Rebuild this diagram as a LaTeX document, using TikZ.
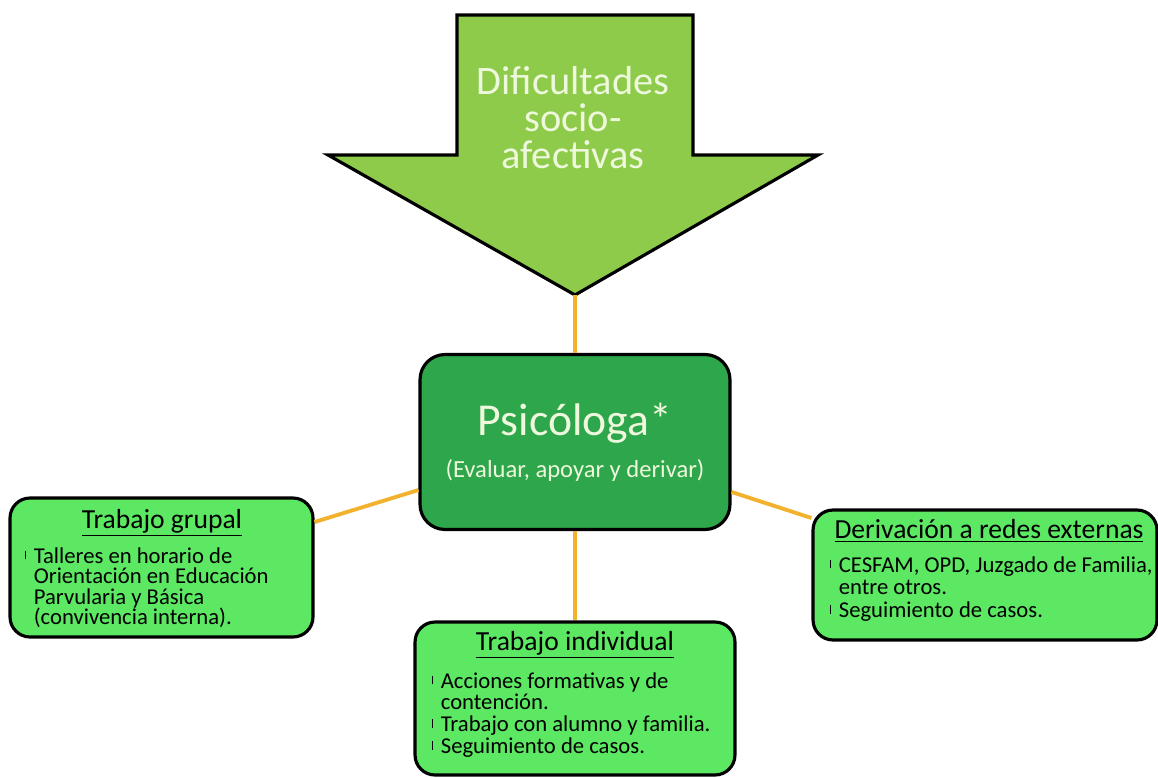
\documentclass[tikz,border=0pt]{standalone}
\usepackage{fontspec}
\setmainfont{Carlito}

\definecolor{verdeflecha}{HTML}{8FCB4B}
\definecolor{verdecentro}{HTML}{2EA64B}
\definecolor{verdecaja}{HTML}{5CE862}
\definecolor{amarillo}{HTML}{F2B22E}
\definecolor{claro}{HTML}{EEF8DC}

\newcommand{\tic}{\makebox[0.17cm][l]{\rule[0.35ex]{0.6pt}{0.8ex}}}
\newcommand{\sig}{\hspace*{0.17cm}}

\begin{document}
\begin{tikzpicture}[x=0.02cm,y=-0.02cm,
  cajaverde/.style={draw,line width=1.8pt,rounded corners=0.4cm,fill=verdecaja},
  titulo/.style={font=\fontsize{15.7}{18}\selectfont},
  cuerpo/.style={anchor=north west,inner sep=0pt,align=left,font=\fontsize{12.9}{11.7}\selectfont},
  conector/.style={amarillo,line width=2.2pt}]

\useasboundingbox (0,0) rectangle (1158,777);

% flecha de arriba
\fill[verdeflecha,draw=black,line width=1.8pt,line join=miter]
  (457,15) -- (693,15) -- (693,155) -- (818,155) -- (575,295)
  -- (328,155) -- (457,155) -- cycle;
\coordinate (punta) at (575,295);
\node[text=claro,align=center,font=\fontsize{23}{21}\selectfont] (dific) at (573,118)
  {Dificultades\\socio-\\afectivas};

% caja central
\node[draw,line width=1.8pt,rounded corners=0.5cm,fill=verdecentro,text=claro,
  minimum width=6.2cm,minimum height=3.5cm,align=center,
  font=\fontsize{26}{26}\selectfont] (psico) at (575,442)
  {Psicóloga*\\[-2pt]{\fontsize{14}{16}\selectfont (Evaluar, apoyar y derivar)}};

% cajas de abajo
\node[cajaverde,minimum width=6.06cm,minimum height=2.78cm] (grupal) at (161.5,567.5) {};
\node[cajaverde,minimum width=6.4cm,minimum height=3.06cm] (indiv) at (575,698.5) {};
\node[cajaverde,minimum width=6.88cm,minimum height=2.6cm] (redes) at (985,575) {};

\node[titulo] (tgrupal) at (162,523) {\underline{Trabajo grupal}};
\node[titulo] (tindiv) at (575,645) {\underline{Trabajo individual}};
\node[titulo] (tredes) at (989,531) {\underline{Derivación a redes externas}};

\node[cuerpo] (cgrupal) at (25,547)
  {\tic Talleres en horario de\\
   \sig Orientación en Educación\\
   \sig Parvularia y Básica\\
   \sig (convivencia interna).};
\node[cuerpo,font=\fontsize{12.9}{12.4}\selectfont] (cindiv) at (432,672)
  {\tic Acciones formativas y de\\
   \sig contención.\\
   \tic Trabajo con alumno y familia.\\
   \tic Seguimiento de casos.};
\node[cuerpo,font=\fontsize{12.9}{13}\selectfont] (credes) at (830,556)
  {\tic CESFAM, OPD, Juzgado de Familia,\\
   \sig entre otros.\\
   \tic Seguimiento de casos.};

% conectores
\draw[conector] (punta) -- (punta |- psico.north);
\draw[conector] (psico.south) -- (indiv.north);
\draw[conector] (psico.west |- 0,490) -- (grupal.east |- 0,522);
\draw[conector] (psico.east |- 0,492) -- (redes.west |- 0,518);

\end{tikzpicture}
\end{document}
